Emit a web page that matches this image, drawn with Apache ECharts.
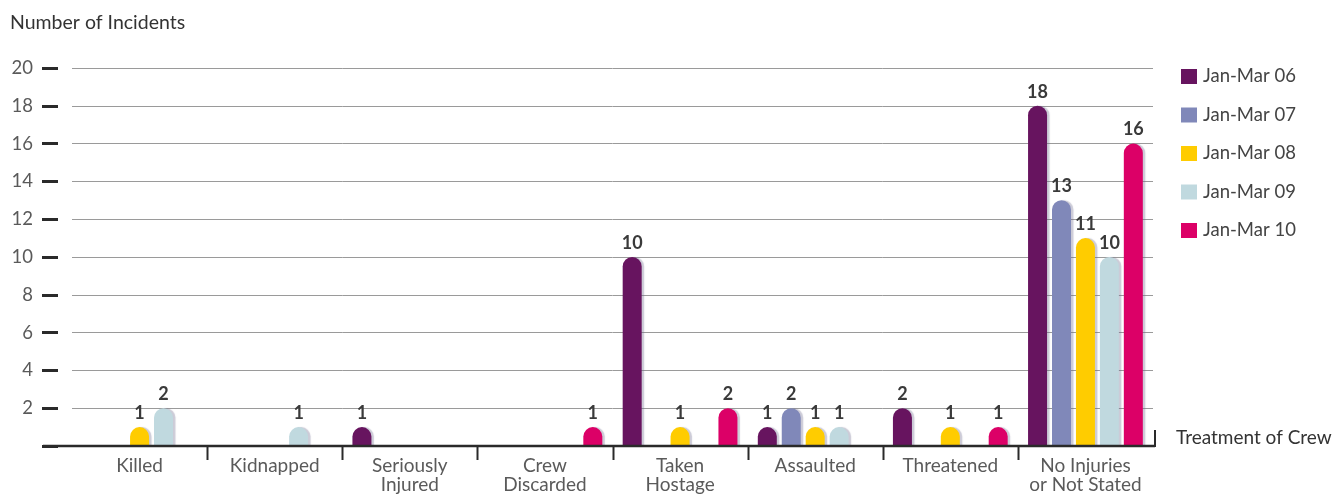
<!DOCTYPE html>
<html>
<head>
<meta charset="utf-8">
<script src="https://cdn.jsdelivr.net/npm/echarts@6/dist/echarts.min.js"></script>
<style>
  html, body { margin: 0; padding: 0; background: #ffffff; }
  #chart { width: 1342px; height: 494px; }
</style>
</head>
<body>
<div id="chart"></div>
<script>
// Treatment of crew, number of incidents per quarter
const categories = ['Killed', 'Kidnapped', 'Seriously\nInjured', 'Crew\nDiscarded', 'Taken\nHostage', 'Assaulted', 'Threatened', 'No Injuries\nor Not Stated'];
const seriesNames = ['Jan-Mar 06', 'Jan-Mar 07', 'Jan-Mar 08', 'Jan-Mar 09', 'Jan-Mar 10'];
const janMar06 = [null, null, 1, null, 10, 1, 2, 18];
const janMar07 = [null, null, null, null, null, 2, null, 13];
const janMar08 = [1, null, null, null, 1, 1, 1, 11];
const janMar09 = [2, 1, null, null, null, 1, null, 10];
const janMar10 = [null, null, null, 1, 2, null, 1, 16];
const seriesColors = ['#67145f', '#8088b9', '#ffcc00', '#c0d9df', '#dc0067'];

const FONT = 'Lato, "Open Sans", sans-serif';
const values = [janMar06, janMar07, janMar08, janMar09, janMar10];

const chart = echarts.init(document.getElementById('chart'), null, { renderer: 'canvas' });

const series = seriesNames.map((name, i) => ({
  name: name,
  type: 'bar',
  data: values[i],
  barWidth: 19,
  barGap: '26%',
  itemStyle: {
    color: seriesColors[i],
    borderRadius: [10, 10, 0, 0],
    shadowColor: 'rgba(110,105,140,0.35)',
    shadowOffsetX: 2.5,
    shadowOffsetY: 0,
    shadowBlur: 1
  },
  label: {
    show: true,
    position: 'top',
    distance: 5,
    fontFamily: FONT,
    fontWeight: 'bold',
    fontSize: 18,
    color: '#3a3a3a'
  }
}));

chart.setOption({
  animation: false,
  textStyle: { fontFamily: FONT },
  grid: { left: 72, right: 189, top: 68, bottom: 48, containLabel: false },
  legend: {
    orient: 'vertical',
    left: 1176,
    top: 62,
    icon: 'rect',
    itemWidth: 16,
    itemHeight: 15,
    itemGap: 19.5,
    data: seriesNames,
    textStyle: { fontFamily: FONT, fontSize: 18.5, color: '#444444', padding: [0, 0, 0, 1] }
  },
  xAxis: {
    type: 'category',
    data: categories,
    boundaryGap: true,
    axisLine: { show: false },
    axisTick: { show: false },
    axisLabel: {
      margin: 10,
      fontFamily: FONT,
      fontSize: 19,
      lineHeight: 19,
      color: '#5a5a5a',
      interval: 0
    },
    splitLine: { show: false }
  },
  yAxis: {
    type: 'value',
    min: 0,
    max: 20,
    interval: 2,
    offset: 14,
    axisLine: { show: false },
    axisTick: { show: true, length: 16, lineStyle: { color: '#2a2a2a', width: 3 } },
    axisLabel: {
      margin: 25,
      fontFamily: FONT,
      fontSize: 18.5,
      color: '#5a5a5a',
      formatter: v => (v === 0 ? '' : String(v))
    },
    splitLine: { show: true, lineStyle: { color: '#9a9a9a', width: 1 } }
  },
  series: series
});

// Baseline, category separators and axis titles, placed from the axis scales
function drawDecorations() {
  const xp = i => chart.convertToPixel({ xAxisIndex: 0 }, i);
  const y0 = chart.convertToPixel({ yAxisIndex: 0 }, 0);
  const y20 = chart.convertToPixel({ yAxisIndex: 0 }, 20);
  const band = xp(1) - xp(0);
  const endX = xp(categories.length - 1) + band / 2 + 2;
  const elements = [];
  elements.push({
    type: 'line',
    shape: { x1: 43, y1: y0, x2: endX, y2: y0 },
    style: { stroke: '#2a2a2a', lineWidth: 2.5 },
    z: 10
  });
  for (let i = 1; i < categories.length; i++) {
    const bx = Math.round((xp(i - 1) + xp(i)) / 2) + 0.5;
    elements.push({
      type: 'line',
      shape: { x1: bx, y1: y0, x2: bx, y2: y0 + 14 },
      style: { stroke: '#2a2a2a', lineWidth: 2 },
      z: 10
    });
  }
  elements.push({
    type: 'line',
    shape: { x1: endX, y1: y0 - 16, x2: endX, y2: y0 + 1 },
    style: { stroke: '#2a2a2a', lineWidth: 2 },
    z: 10
  });
  elements.push({
    type: 'text',
    left: 10,
    top: y20 - 55,
    style: { text: 'Number of Incidents', fontFamily: FONT, fontSize: 19.5, fill: '#333333' }
  });
  elements.push({
    type: 'text',
    left: 1176,
    top: y0 - 18,
    style: { text: 'Treatment of Crew', fontFamily: FONT, fontSize: 19, fill: '#333333' }
  });
  chart.setOption({ graphic: { elements: elements } });
}
drawDecorations();
</script>
</body>
</html>
